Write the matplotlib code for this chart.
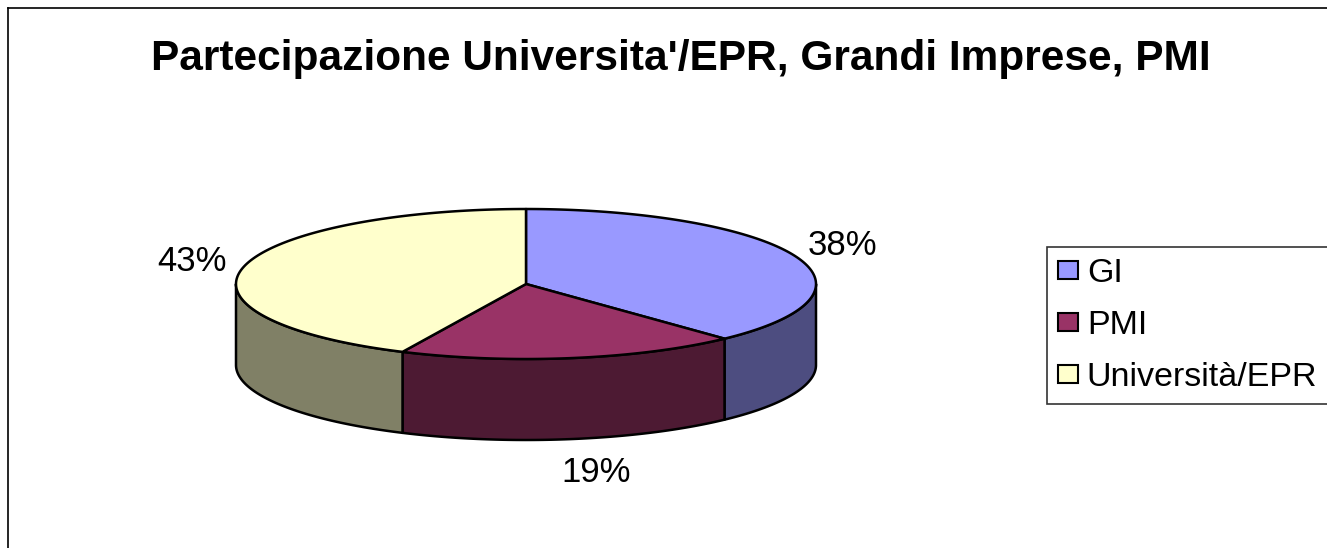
import numpy as np
import matplotlib
matplotlib.use("Agg")
import matplotlib.pyplot as plt
from matplotlib.patches import Polygon, Patch

plt.rcParams['font.family'] = ['Liberation Sans', 'DejaVu Sans']

title = "Partecipazione Universita'/EPR, Grandi Imprese, PMI"
labels = ["GI", "PMI", "Università/EPR"]
shares = [38, 19, 43]
top_colors = ["#9999ff", "#993366", "#ffffcc"]
side_colors = ["#4d4d80", "#4d1a33", "#808066"]

fig = plt.figure(figsize=(13.27, 5.48), dpi=100)
ax = fig.add_axes([0, 0, 1, 1])
ax.set_xlim(0, 1327)
ax.set_ylim(548, 0)
ax.axis("off")

# chart area border (only left / top visible in the crop)
ax.plot([8, 8], [548, 8], color="black", lw=1.2)
ax.plot([8, 1327], [8, 8], color="black", lw=1.2)

cx, cy, a, b, depth = 526, 284, 290, 75, 81


def pt(theta_deg, dy=0):
    t = np.radians(theta_deg)
    return cx + a * np.sin(t), cy - b * np.cos(t) + dy


fracs = np.array(shares) / sum(shares)
edges = np.concatenate([[0], np.cumsum(fracs) * 360])

# side walls (front half only: 90..270 deg clockwise from top)
for i in range(len(shares)):
    s, e = max(edges[i], 90), min(edges[i + 1], 270)
    if e <= s:
        continue
    th = np.linspace(s, e, 80)
    xs, ys = pt(th)
    xb, yb = pt(th[::-1], depth)
    poly = np.column_stack([np.concatenate([xs, xb]), np.concatenate([ys, yb])])
    ax.add_patch(Polygon(poly, closed=True, facecolor=side_colors[i],
                         edgecolor="black", lw=1.8, joinstyle="round"))

# top faces
for i in range(len(shares)):
    th = np.linspace(edges[i], edges[i + 1], 120)
    xs, ys = pt(th)
    poly = np.column_stack([np.concatenate([[cx], xs]), np.concatenate([[cy], ys])])
    ax.add_patch(Polygon(poly, closed=True, facecolor=top_colors[i],
                         edgecolor="black", lw=1.8, joinstyle="round"))

# percentage labels (baseline positions)
label_pos = [(842, 255), (596, 482), (192, 271)]
for (x, y), v in zip(label_pos, shares):
    ax.text(x, y, f"{v}%", ha="center", va="baseline", fontsize=25)

ax.text(681, 70, title, ha="center", va="baseline", fontsize=30.5, fontweight="bold")

handles = [Patch(facecolor=c, edgecolor="black", lw=1.5) for c in top_colors]
leg = ax.legend(handles, labels, loc="upper left", bbox_to_anchor=(1047 / 1327, 1 - 247 / 548),
                frameon=True, fancybox=False, fontsize=24.5, handlelength=0.6, handleheight=0.45,
                handletextpad=0.25, labelspacing=0.62, borderpad=0.32, borderaxespad=0)
leg.get_frame().set_edgecolor("black")
leg.get_frame().set_linewidth(1.2)

fig.savefig("out.png", dpi=100)
